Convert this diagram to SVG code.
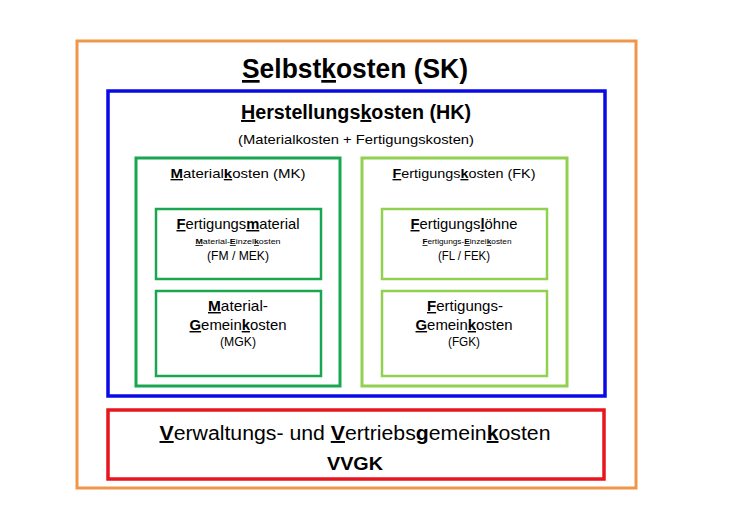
<svg xmlns="http://www.w3.org/2000/svg" width="730" height="530" viewBox="0 0 730 530">
<style>
  text { font-family: "Liberation Sans", Arial, sans-serif; fill: #000; text-anchor: middle; }
  .u { font-weight: bold; text-decoration: underline; }
  .b { font-weight: bold; }
  .box { fill: none; }
  .orange { stroke: #F0964B; stroke-width: 3; }
  .blue { stroke: #0A0AE6; stroke-width: 3.5; }
  .green { stroke: #1AA650; stroke-width: 3; }
  .green2 { stroke: #1AA650; stroke-width: 2.5; }
  .lgreen { stroke: #92D050; stroke-width: 3; }
  .lgreen2 { stroke: #92D050; stroke-width: 2.5; }
  .red { stroke: #E8141E; stroke-width: 3.5; }
</style>
<rect width="730" height="530" fill="#fff"/>

<g id="sk">
  <rect class="box orange" x="77" y="41" width="559" height="447"/>
  <text class="b" x="355" y="78" font-size="27" textLength="226" lengthAdjust="spacingAndGlyphs"><tspan class="u">S</tspan>elbst<tspan class="u">k</tspan>osten (SK)</text>
</g>

<g id="hk">
  <rect class="box blue" x="108" y="91" width="497" height="305"/>
  <text class="b" x="356" y="119" font-size="19.5" textLength="230" lengthAdjust="spacingAndGlyphs"><tspan class="u">H</tspan>erstellungs<tspan class="u">k</tspan>osten (HK)</text>
  <text x="356" y="144" font-size="13.5" textLength="236" lengthAdjust="spacingAndGlyphs">(Materialkosten + Fertigungskosten)</text>
</g>

<g id="mk">
  <rect class="box green" x="136" y="158" width="204" height="228"/>
  <text x="238" y="178" font-size="13.5" textLength="135" lengthAdjust="spacingAndGlyphs"><tspan class="u">M</tspan>aterial<tspan class="u">k</tspan>osten (MK)</text>
</g>

<g id="fm">
  <rect class="box green2" x="156" y="209" width="165" height="70"/>
  <text x="238" y="229" font-size="14.5" textLength="123" lengthAdjust="spacingAndGlyphs"><tspan class="u">F</tspan>ertigungs<tspan class="u">m</tspan>aterial</text>
  <text x="238" y="244" font-size="8" textLength="85" lengthAdjust="spacingAndGlyphs"><tspan class="u">M</tspan>aterial-<tspan class="u">E</tspan>inzel<tspan class="u">k</tspan>osten</text>
  <text x="238" y="260" font-size="13.5" textLength="62" lengthAdjust="spacingAndGlyphs">(FM / MEK)</text>
</g>

<g id="mgk">
  <rect class="box green2" x="156" y="291" width="165" height="85"/>
  <text x="238" y="311" font-size="14.5" textLength="60" lengthAdjust="spacingAndGlyphs"><tspan class="u">M</tspan>aterial-</text>
  <text x="238" y="330" font-size="14.5" textLength="97" lengthAdjust="spacingAndGlyphs"><tspan class="u">G</tspan>emein<tspan class="u">k</tspan>osten</text>
  <text x="238" y="346" font-size="13" textLength="36" lengthAdjust="spacingAndGlyphs">(MGK)</text>
</g>

<g id="fk">
  <rect class="box lgreen" x="362" y="158" width="205" height="228"/>
  <text x="464" y="178" font-size="13.5" textLength="143" lengthAdjust="spacingAndGlyphs"><tspan class="u">F</tspan>ertigungs<tspan class="u">k</tspan>osten (FK)</text>
</g>

<g id="fl">
  <rect class="box lgreen2" x="382" y="209" width="165" height="70"/>
  <text x="464" y="229" font-size="14.5" textLength="107" lengthAdjust="spacingAndGlyphs"><tspan class="u">F</tspan>ertigungs<tspan class="u">l</tspan>öhne</text>
  <text x="467" y="244" font-size="8" textLength="89" lengthAdjust="spacingAndGlyphs"><tspan class="u">F</tspan>ertigungs-<tspan class="u">E</tspan>inzel<tspan class="u">k</tspan>osten</text>
  <text x="464" y="260" font-size="13.5" textLength="52" lengthAdjust="spacingAndGlyphs">(FL / FEK)</text>
</g>

<g id="fgk">
  <rect class="box lgreen2" x="382" y="291" width="165" height="85"/>
  <text x="465" y="311" font-size="14.5" textLength="76" lengthAdjust="spacingAndGlyphs"><tspan class="u">F</tspan>ertigungs-</text>
  <text x="464" y="330" font-size="14.5" textLength="97" lengthAdjust="spacingAndGlyphs"><tspan class="u">G</tspan>emein<tspan class="u">k</tspan>osten</text>
  <text x="464" y="346" font-size="13" textLength="32" lengthAdjust="spacingAndGlyphs">(FGK)</text>
</g>

<g id="vvgk">
  <rect class="box red" x="108" y="410" width="496" height="69"/>
  <text x="355" y="440" font-size="19.5" textLength="391" lengthAdjust="spacingAndGlyphs"><tspan class="u">V</tspan>erwaltungs- und <tspan class="u">V</tspan>ertriebs<tspan class="u">g</tspan>emein<tspan class="u">k</tspan>osten</text>
  <text class="b" x="355" y="470" font-size="18.5" textLength="56" lengthAdjust="spacingAndGlyphs">VVGK</text>
</g>

<g id="connectors"></g>
</svg>
